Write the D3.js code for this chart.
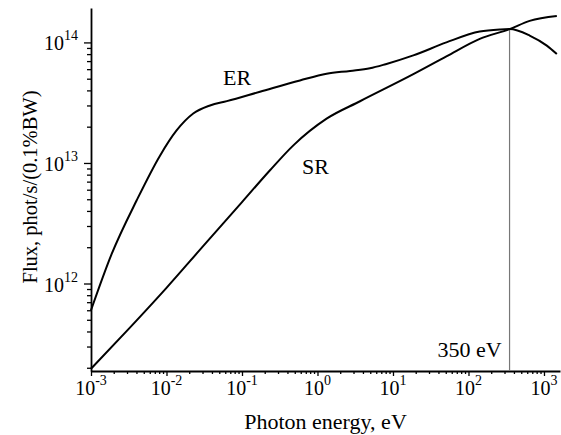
<!DOCTYPE html>
<html>
<head>
<meta charset="utf-8">
<script src="https://cdn.jsdelivr.net/npm/d3@7"></script>
<style>
  body { margin: 0; background: #fff; }
  text { font-family: "Liberation Serif", "Times New Roman", serif; fill: #000; }
</style>
</head>
<body>
<div id="chart"></div>
<script>
// Photon energy (eV) and flux (phot/s/0.1%BW)
var erEnergy = [1e-3, 1.88e-3, 4.03e-3, 8.2e-3, 1.36e-2, 2.26e-2, 3.77e-2, 6.3e-2, 0.173, 0.586, 1.32, 2.7, 4.95, 8.0, 18.6, 51, 141, 261, 350, 646, 1090, 1480];
var erFlux = [6.0e11, 1.76e12, 4.9e12, 1.15e13, 1.86e13, 2.57e13, 3.0e13, 3.26e13, 3.9e13, 4.84e13, 5.5e13, 5.8e13, 6.1e13, 6.6e13, 7.8e13, 1.0e14, 1.23e14, 1.28e14, 1.29e14, 1.14e14, 9.4e13, 8.0e13];

var srEnergy = [1e-3, 3.16e-3, 1e-2, 3.16e-2, 0.1, 0.235, 0.479, 1.32, 3.66, 18.6, 51, 141, 350, 646, 1480];
var srFlux = [1.96e11, 4.2e11, 9.2e11, 2.09e12, 4.73e12, 8.7e12, 1.4e13, 2.33e13, 3.25e13, 5.45e13, 7.65e13, 1.07e14, 1.29e14, 1.51e14, 1.66e14];

var xTickExps = [-3, -2, -1, 0, 1, 2, 3];
var yTickExps = [12, 13, 14];

var markerEnergy = 350;
var markerFlux = 1.29e14;
var markerLabel = "350 eV";

var width = 561, height = 435;
var svg = d3.select("#chart").append("svg")
  .attr("width", width)
  .attr("height", height);

var plotLeft = 91, plotRight = 560, plotTop = 8, plotBottom = 371;

var x = d3.scaleLog().domain([1e-3, 1630]).range([plotLeft, plotRight]);
var y = d3.scaleLog().domain([1.88e11, 1.93e14]).range([plotBottom, plotTop]);

// minor tick values: 2..9 x 10^n inside the domain
function minorTicks(scale, lo, hi) {
  var out = [];
  var d = scale.domain();
  for (var e = lo; e <= hi; e++) {
    for (var m = 2; m <= 9; m++) {
      var v = m * Math.pow(10, e);
      if (v >= d[0] && v <= d[1]) out.push(v);
    }
  }
  return out;
}

// x axis
svg.append("g")
  .attr("transform", "translate(0," + plotBottom + ")")
  .call(d3.axisBottom(x).tickValues(minorTicks(x, -3, 3)).tickSize(3).tickFormat(""))
  .call(function (g) { g.select(".domain").remove(); })
  .selectAll(".tick line").attr("stroke-width", 1.3);

var xAxis = svg.append("g")
  .attr("transform", "translate(0," + plotBottom + ")")
  .call(d3.axisBottom(x).tickValues(xTickExps.map(function (e) { return Math.pow(10, e); }))
    .tickSize(5).tickSizeOuter(0).tickFormat(""));
xAxis.select(".domain").attr("stroke-width", 1.8);
xAxis.selectAll(".tick line").attr("stroke-width", 1.3);

xTickExps.forEach(function (e) {
  var t = svg.append("text")
    .attr("x", x(Math.pow(10, e)))
    .attr("y", 395)
    .attr("text-anchor", "middle")
    .attr("font-size", "20px")
    .text("10");
  t.append("tspan").attr("dy", -10).attr("font-size", "14px").text(e);
});

// y axis
svg.append("g")
  .attr("transform", "translate(" + plotLeft + ",0)")
  .call(d3.axisLeft(y).tickValues(minorTicks(y, 11, 14)).tickSize(4).tickFormat(""))
  .call(function (g) { g.select(".domain").remove(); })
  .selectAll(".tick line").attr("stroke-width", 1.3);

var yAxis = svg.append("g")
  .attr("transform", "translate(" + plotLeft + ",0)")
  .call(d3.axisLeft(y).tickValues(yTickExps.map(function (e) { return Math.pow(10, e); }))
    .tickSize(7).tickSizeOuter(0).tickFormat(""));
yAxis.select(".domain").attr("stroke-width", 1.8);
yAxis.selectAll(".tick line").attr("stroke-width", 1.3);

yTickExps.forEach(function (e) {
  var t = svg.append("text")
    .attr("x", 78)
    .attr("y", y(Math.pow(10, e)) + 8)
    .attr("text-anchor", "end")
    .attr("font-size", "20px")
    .text("10");
  t.append("tspan").attr("dy", -10).attr("font-size", "14px").text(e);
});

// axis titles
svg.append("text")
  .attr("x", (plotLeft + plotRight) / 2)
  .attr("y", 429)
  .attr("text-anchor", "middle")
  .attr("font-size", "22px")
  .text("Photon energy, eV");

svg.append("text")
  .attr("transform", "translate(37,187) rotate(-90)")
  .attr("text-anchor", "middle")
  .attr("font-size", "20.5px")
  .text("Flux, phot/s/(0.1%BW)");

// 350 eV marker
svg.append("line")
  .attr("x1", x(markerEnergy)).attr("x2", x(markerEnergy))
  .attr("y1", plotBottom).attr("y2", y(markerFlux))
  .attr("stroke", "#777")
  .attr("stroke-width", 1.2);

svg.append("text")
  .attr("x", x(markerEnergy) - 8)
  .attr("y", 357)
  .attr("text-anchor", "end")
  .attr("font-size", "22px")
  .text(markerLabel);

// curves
var line = d3.line()
  .x(function (d) { return x(d[0]); })
  .y(function (d) { return y(d[1]); })
  .curve(d3.curveMonotoneX);

svg.append("path")
  .datum(d3.zip(erEnergy, erFlux))
  .attr("fill", "none")
  .attr("stroke", "#000")
  .attr("stroke-width", 2)
  .attr("d", line);

svg.append("path")
  .datum(d3.zip(srEnergy, srFlux))
  .attr("fill", "none")
  .attr("stroke", "#000")
  .attr("stroke-width", 2)
  .attr("d", line);

// curve labels
svg.append("text")
  .attr("x", 223).attr("y", 85)
  .attr("font-size", "22px")
  .text("ER");

svg.append("text")
  .attr("x", 302).attr("y", 174)
  .attr("font-size", "22px")
  .text("SR");
</script>
</body>
</html>
